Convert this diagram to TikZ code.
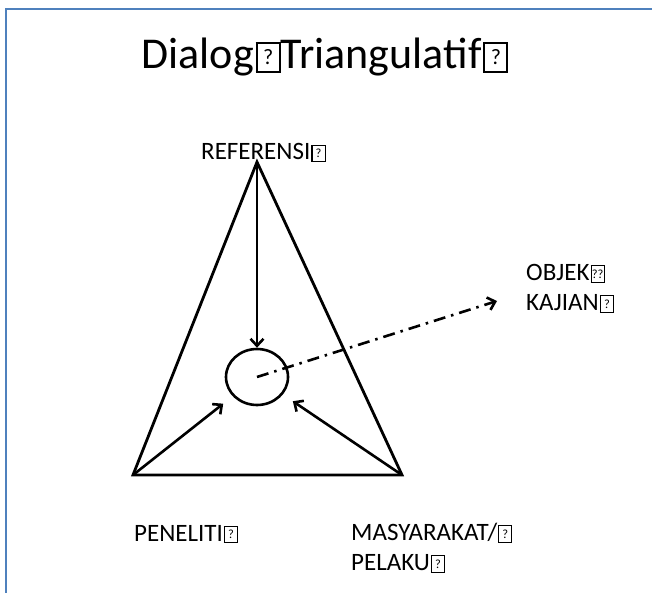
\documentclass[tikz,border=0pt]{standalone}
\usepackage{fontspec}
\setmainfont{Carlito}
\usetikzlibrary{shapes,arrows.meta}

\definecolor{framecol}{RGB}{79,129,189}
% box drawn where the source font had no glyph
\newcommand{\qbox}[1][?]{\kern.04em{\setlength{\fboxsep}{0.05em}\setlength{\fboxrule}{0.045em}\fbox{\vbox to 0.52em{\vss\hbox to 0.38em{\hss\scalebox{0.5}{#1}\hss}\vss}}}}

\begin{document}
\begin{tikzpicture}[
    x=1pt, y=-1pt,
    title/.style={font=\fontsize{44}{50}\selectfont, inner sep=0pt},
    lbl/.style={font=\fontsize{25}{30}\selectfont, inner sep=0pt, align=left},
    side/.style={draw, line width=2.8pt, line join=miter},
    line/.style={draw, line width=2.6pt, -{Straight Barb[length=7pt,width=13pt]}},
    dashline/.style={draw, line width=2.6pt, -{Straight Barb[length=7pt,width=13pt]}, dash pattern=on 12pt off 6pt on 2.5pt off 6pt}
]
    \useasboundingbox (0,0) rectangle (652,593);
    \draw [framecol, line width=2pt] (6,593) -- (6,9) -- (652,9);

    \node [title, anchor=base] (head) at (325,69) {Dialog\qbox Triangulatif\qbox};

    \coordinate (ref) at (257,162);
    \coordinate (pen) at (133,475);
    \coordinate (mas) at (402,475);
    \node [draw, ellipse, line width=2.6pt, minimum width=62pt, minimum height=56pt, inner sep=0pt] (obj) at (257,377) {};
    \coordinate (objtip) at (497,301);

    \node [lbl, anchor=base west] (reflabel) at (201,160) {REFERENSI\qbox};
    \node [lbl, anchor=north west] (objlabel) at (526,264) {OBJEK\qbox[??]\\KAJIAN\qbox};
    \node [lbl, anchor=base west] (penlabel) at (134,541) {PENELITI\qbox};
    \node [lbl, anchor=north west] (maslabel) at (351,523) {MASYARAKAT/\qbox\\PELAKU\qbox};

    \path [side] (ref) -- (pen) -- (mas) -- cycle;

    \path [line] (ref) -- (obj);
    \path [line, shorten >=12pt] (pen) -- (obj);
    \path [line, shorten >=12pt] (mas) -- (obj);
    \path [dashline] (obj.center) -- (objtip);
\end{tikzpicture}
\end{document}
